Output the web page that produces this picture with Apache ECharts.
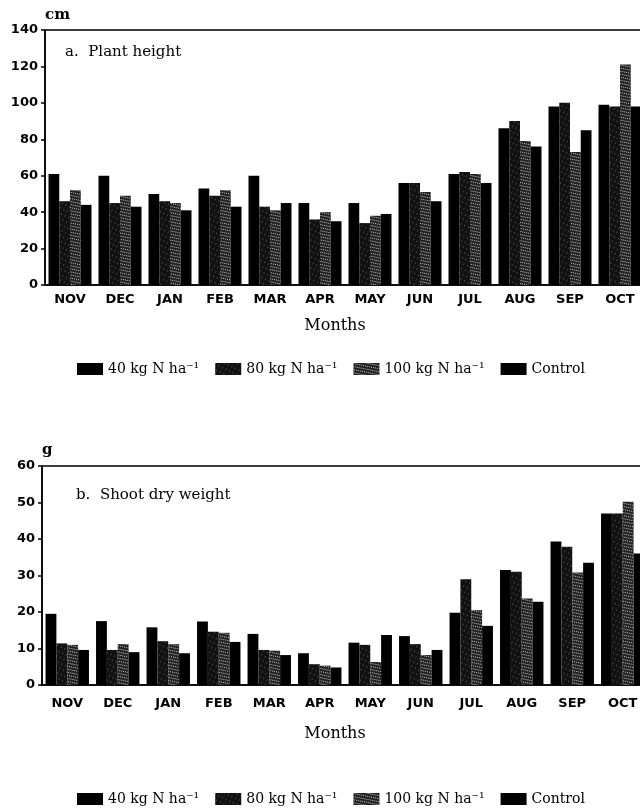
<!DOCTYPE html>
<html>
<head>
<meta charset="utf-8">
<script src="https://cdn.jsdelivr.net/npm/echarts@6/dist/echarts.min.js"></script>
<style>
html,body{margin:0;padding:0;background:#fff;}
#c{width:640px;height:809px;}
</style>
</head>
<body>
<div id="c"></div>
<script>
const months = ['NOV','DEC','JAN','FEB','MAR','APR','MAY','JUN','JUL','AUG','SEP','OCT'];
const seriesNames = ['40 kg N ha⁻¹','80 kg N ha⁻¹','100 kg N ha⁻¹','Control'];

const height40   = [61, 60, 50, 53, 60, 45, 45, 56, 61, 86, 98, 99];
const height80   = [46, 45, 46, 49, 43, 36, 34, 56, 62, 90, 100, 98];
const height100  = [52, 49, 45, 52, 41, 40, 38, 51, 61, 79, 73, 121];
const heightCtrl = [44, 43, 41, 43, 45, 35, 39, 46, 56, 76, 85, 98];

const weight40   = [19.5, 17.5, 15.8, 17.4, 14, 8.7, 11.6, 13.4, 19.8, 31.5, 39.3, 47];
const weight80   = [11.4, 9.6, 12, 14.6, 9.6, 5.7, 11, 11.2, 29, 31, 37.9, 47];
const weight100  = [11, 11.2, 11.2, 14.3, 9.4, 5.3, 6.3, 8.2, 20.5, 23.7, 30.8, 50.2];
const weightCtrl = [9.6, 9, 8.7, 11.8, 8.2, 4.8, 13.7, 9.6, 16.2, 22.8, 33.5, 36];

const heightTicks = [0, 20, 40, 60, 80, 100, 120, 140];
const weightTicks = [0, 10, 20, 30, 40, 50, 60];

const styles = [
  {color: '#000'},
  {color: '#111', decal: {symbol: 'rect', symbolSize: 0.6, color: 'rgba(255,255,255,0.7)', dashArrayX: [1, 3], dashArrayY: [2, 3], rotation: 0.45}},
  {color: '#222', decal: {symbol: 'rect', symbolSize: 0.8, color: 'rgba(255,255,255,0.9)', dashArrayX: [1, 1], dashArrayY: [1, 2], rotation: 0.2}},
  {color: '#000'}
];

const chart = echarts.init(document.getElementById('c'), null, {renderer: 'canvas'});
const serif = 'DejaVu Serif';
const heavy = 'DejaVu Sans';

function yAxisCfg(gridIndex, ticks, unit, nameGap) {
  return {
    type: 'value', gridIndex: gridIndex,
    min: ticks[0], max: ticks[ticks.length - 1], interval: ticks[1] - ticks[0],
    name: unit, nameLocation: 'end', nameGap: nameGap,
    nameTextStyle: {fontFamily: serif, fontSize: 15, color: '#000', align: 'left', fontWeight: 'bold'},
    axisLine: {show: true, lineStyle: {color: '#000', width: 1.5}},
    axisTick: {show: true, length: 4, lineStyle: {color: '#000', width: 1.5}},
    splitLine: {show: false},
    axisLabel: {margin: 7, color: '#000', fontFamily: heavy, fontWeight: 'bold', fontSize: 13,
      formatter: function (v) { return ticks.indexOf(v) >= 0 ? String(v) : ''; }}
  };
}
function xAxisCfg(gridIndex, margin, nameGap) {
  return {
    type: 'category', gridIndex: gridIndex, data: months,
    name: 'Months', nameLocation: 'middle', nameGap: nameGap,
    nameTextStyle: {fontFamily: serif, fontSize: 16, color: '#000', padding: [0, 20, 0, 0]},
    axisLine: {show: true, lineStyle: {color: '#000', width: 1.5}},
    axisTick: {show: false},
    axisLabel: {margin: margin, color: '#000', fontFamily: heavy, fontWeight: 'bold', fontSize: 13, interval: 0}
  };
}
function barSeries(name, idx, data, axisIndex) {
  return {
    type: 'bar', name: name, data: data,
    xAxisIndex: axisIndex, yAxisIndex: axisIndex,
    barGap: '0%', barCategoryGap: '14%',
    itemStyle: styles[idx],
    emphasis: {disabled: true}
  };
}
function legendCfg(top) {
  return {data: seriesNames, left: 72, top: top, icon: 'rect', itemWidth: 26, itemHeight: 12, itemGap: 16,
    textStyle: {fontFamily: serif, fontSize: 14, color: '#000'}, selectedMode: false};
}

const option = {
  animation: false,
  backgroundColor: '#fff',
  title: [
    {text: 'a.  Plant height', left: 60, top: 40, textStyle: {fontFamily: serif, fontSize: 15, fontWeight: 'normal', color: '#000'}},
    {text: 'b.  Shoot dry weight', left: 71, top: 483, textStyle: {fontFamily: serif, fontSize: 15, fontWeight: 'normal', color: '#000'}}
  ],
  legend: [legendCfg(357), legendCfg(787)],
  grid: [
    {left: 45, top: 30, width: 600, height: 255, show: true, borderColor: '#000', borderWidth: 1.5, backgroundColor: 'transparent', outerBoundsMode: 'none'},
    {left: 42, top: 466, width: 606, height: 219, show: true, borderColor: '#000', borderWidth: 1.5, backgroundColor: 'transparent', outerBoundsMode: 'none'}
  ],
  xAxis: [xAxisCfg(0, 8, 33), xAxisCfg(1, 12, 41)],
  yAxis: [yAxisCfg(0, heightTicks, 'cm', 7), yAxisCfg(1, weightTicks, 'g', 8)],
  series: [
    barSeries(seriesNames[0], 0, height40, 0),
    barSeries(seriesNames[1], 1, height80, 0),
    barSeries(seriesNames[2], 2, height100, 0),
    barSeries(seriesNames[3], 3, heightCtrl, 0),
    barSeries(seriesNames[0], 0, weight40, 1),
    barSeries(seriesNames[1], 1, weight80, 1),
    barSeries(seriesNames[2], 2, weight100, 1),
    barSeries(seriesNames[3], 3, weightCtrl, 1)
  ]
};
chart.setOption(option);
</script>
</body>
</html>
